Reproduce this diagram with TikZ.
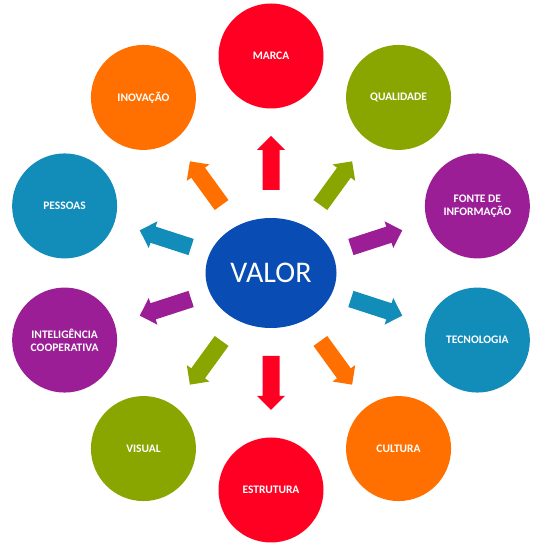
\documentclass[tikz,border=0pt]{standalone}
\usepackage{fontspec}
\setmainfont{Carlito}
\usetikzlibrary{calc,shapes.geometric}
\definecolor{cRed}{RGB}{255,0,35}
\definecolor{cOrange}{RGB}{255,112,0}
\definecolor{cGreen}{RGB}{137,165,0}
\definecolor{cPurple}{RGB}{155,30,150}
\definecolor{cBlue}{RGB}{18,140,185}
\definecolor{cNavy}{RGB}{8,76,180}
\tikzset{
  topic/.style={circle, minimum size=105pt, inner sep=0pt, text=white, align=center,
    font=\bfseries\fontsize{11.5}{13}\selectfont},
  hub/.style={ellipse, minimum width=131pt, minimum height=110pt, inner sep=0pt,
    fill=cNavy, text=white, font=\fontsize{30}{32}\selectfont},
  blockarrow/.pic={\fill[pic actions] (-27,-8.5) -- (13,-8.5) -- (13,-14) -- (27,0)
    -- (13,14) -- (13,8.5) -- (-27,8.5) -- cycle;}
}
\begin{document}
\begin{tikzpicture}[x=1pt,y=1pt]
\useasboundingbox (0,0) rectangle (550,547);
\coordinate (C) at (271,274);
\node[hub] (valor) at (C) {VALOR};
\node[topic, fill=cRed]    (marca)  at ($(C)+(90:217)$)   {MARCA};
\node[topic, fill=cGreen]  (qual)   at ($(C)+(54:217)$)   {QUALIDADE};
\node[topic, fill=cPurple] (fonte)  at ($(C)+(18:217)$)   {FONTE DE\\INFORMAÇÃO};
\node[topic, fill=cBlue]   (tec)    at ($(C)+(-18:217)$)  {TECNOLOGIA};
\node[topic, fill=cOrange] (cult)   at ($(C)+(-54:217)$)  {CULTURA};
\node[topic, fill=cRed]    (estr)   at ($(C)+(-90:217)$)  {ESTRUTURA};
\node[topic, fill=cGreen]  (vis)    at ($(C)+(-126:217)$) {VISUAL};
\node[topic, fill=cPurple] (intel)  at ($(C)+(-162:217)$) {INTELIGÊNCIA\\COOPERATIVA};
\node[topic, fill=cBlue]   (pess)   at ($(C)+(162:217)$)  {PESSOAS};
\node[topic, fill=cOrange] (inov)   at ($(C)+(126:217)$)  {INOVAÇÃO};
\pic[fill=cRed,    rotate=90]   at ($(C)+(90:110)$)   {blockarrow};
\pic[fill=cGreen,  rotate=54]   at ($(C)+(54:111)$)   {blockarrow};
\pic[fill=cPurple, rotate=18]   at ($(C)+(18:111)$)   {blockarrow};
\pic[fill=cBlue,   rotate=-18]  at ($(C)+(-18:111)$)  {blockarrow};
\pic[fill=cOrange, rotate=-54]  at ($(C)+(-54:111)$)  {blockarrow};
\pic[fill=cRed,    rotate=-90]  at ($(C)+(-90:110)$)  {blockarrow};
\pic[fill=cGreen,  rotate=-126] at ($(C)+(-126:111)$) {blockarrow};
\pic[fill=cPurple, rotate=-162] at ($(C)+(-162:111)$) {blockarrow};
\pic[fill=cBlue,   rotate=162]  at ($(C)+(162:111)$)  {blockarrow};
\pic[fill=cOrange, rotate=126]  at ($(C)+(126:111)$)  {blockarrow};
\end{tikzpicture}
\end{document}
